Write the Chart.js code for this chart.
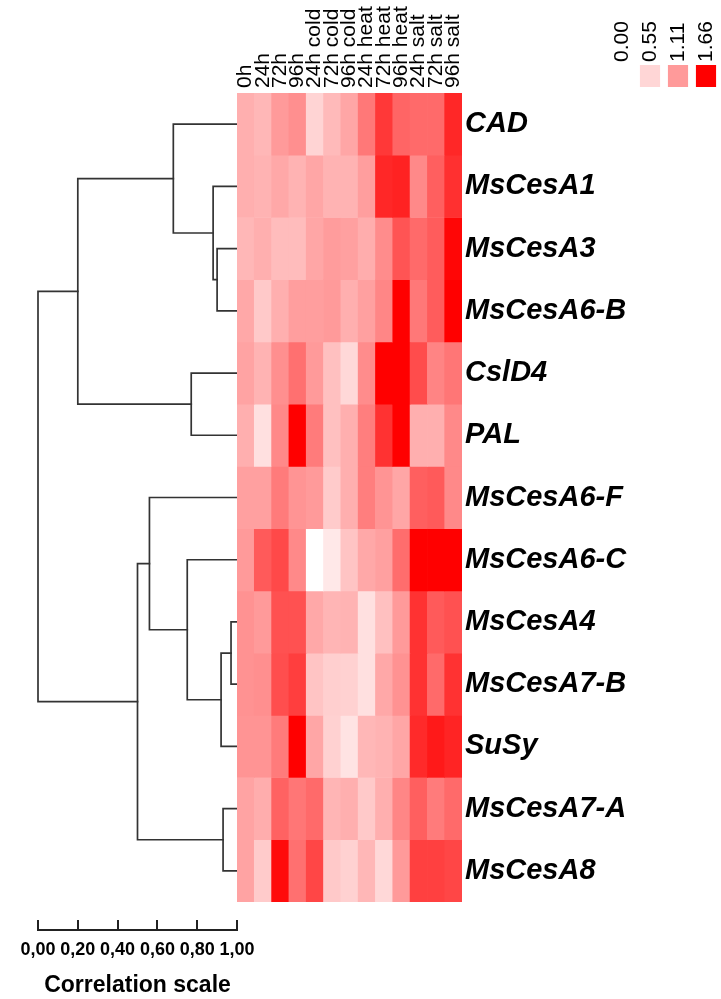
<!DOCTYPE html>
<html><head><meta charset="utf-8">
<script src="https://cdn.jsdelivr.net/npm/chart.js@4.4.1/dist/chart.umd.min.js"></script>
<style>
html,body{margin:0;padding:0;background:#fff;width:721px;height:999px;overflow:hidden;position:relative}
canvas{position:absolute}
</style></head><body>
<canvas id="dendro" width="240" height="809" style="left:0;top:93px"></canvas>
<canvas id="heat" width="494" height="902" style="left:227px;top:0"></canvas>
<canvas id="legend" width="131" height="90" style="left:590px;top:0"></canvas>
<canvas id="scale" width="290" height="94" style="left:0;top:905px"></canvas>
<script>
// ---- data ----
const conditions = ['0h','24h','72h','96h','24h cold','72h cold','96h cold','24h heat','72h heat','96h heat','24h salt','72h salt','96h salt'];
const genes = ['CAD','MsCesA1','MsCesA3','MsCesA6-B','CslD4','PAL','MsCesA6-F','MsCesA6-C','MsCesA4','MsCesA7-B','SuSy','MsCesA7-A','MsCesA8'];

const CAD       = [0.91,0.84,1.11,1.15,0.57,0.81,1.00,1.23,1.46,1.30,1.28,1.28,1.52];
const MsCesA1   = [0.91,0.88,0.98,0.88,1.00,0.88,0.88,1.07,1.52,1.54,1.17,1.32,1.49];
const MsCesA3   = [0.84,0.91,0.79,0.79,1.00,1.09,1.05,0.93,1.16,1.36,1.28,1.33,1.64];
const MsCesA6_B = [0.98,0.67,0.91,1.07,1.07,1.11,0.91,1.05,1.18,1.66,1.23,1.33,1.66];
const CslD4     = [1.03,0.88,1.15,1.26,1.11,0.76,0.52,1.16,1.66,1.66,1.39,1.19,1.24];
const PAL       = [0.91,0.41,1.17,1.66,1.22,0.76,0.91,1.21,1.48,1.66,0.91,0.91,1.17];
const MsCesA6_F = [1.05,1.05,1.22,1.13,1.11,0.65,0.91,1.21,1.13,1.00,1.32,1.34,1.17];
const MsCesA6_C = [1.11,1.34,1.40,1.17,0.00,0.31,0.72,0.98,1.05,1.27,1.66,1.66,1.66];
const MsCesA4   = [1.14,1.11,1.37,1.37,0.98,0.86,0.88,0.41,0.76,1.11,1.48,1.34,1.37];
const MsCesA7_B = [1.14,1.15,1.38,1.44,0.72,0.62,0.60,0.41,0.98,1.14,1.48,1.28,1.48];
const SuSy      = [1.13,1.13,1.22,1.66,1.00,0.60,0.38,0.84,0.88,1.00,1.51,1.57,1.53];
const MsCesA7_A = [1.03,0.93,1.31,1.24,1.28,0.86,0.91,0.67,0.91,1.18,1.32,1.22,1.28];
const MsCesA8   = [1.03,0.65,1.62,1.26,1.41,0.67,0.60,0.84,0.52,1.11,1.43,1.43,1.41];

const legendValues = [0.00, 0.55, 1.11, 1.66];

// dendrogram merges: [child A, child B, correlation level]; leaves 0..12, new nodes 13..
const merges = [
  [2, 3, 0.90],
  [1, 13, 0.88],
  [0, 14, 0.68],
  [4, 5, 0.77],
  [15, 16, 0.20],
  [8, 9, 0.97],
  [18, 10, 0.92],
  [7, 19, 0.75],
  [6, 20, 0.56],
  [11, 12, 0.93],
  [21, 22, 0.50],
  [17, 23, 0.00]
];
const scaleTicks = [0, 0.2, 0.4, 0.6, 0.8, 1.0];

// ---- helpers ----
const rows = [CAD, MsCesA1, MsCesA3, MsCesA6_B, CslD4, PAL, MsCesA6_F, MsCesA6_C, MsCesA4, MsCesA7_B, SuSy, MsCesA7_A, MsCesA8];
const stopRGB = [[255,255,255],[255,214,214],[255,154,154],[255,0,0]];
function colorFor(v){
  let k = 0;
  while (k < legendValues.length - 2 && v > legendValues[k+1]) k++;
  const a = legendValues[k], b = legendValues[k+1];
  let t = (v - a) / (b - a); t = Math.max(0, Math.min(1, t));
  const c = stopRGB[k].map((x,j)=>Math.round(x + (stopRGB[k+1][j]-x)*t));
  return `rgb(${c[0]},${c[1]},${c[2]})`;
}
const FONT = "'Liberation Sans', Arial, sans-serif";
Chart.defaults.font.family = FONT;
Chart.defaults.color = '#000';
const base = {responsive:false, animation:false, devicePixelRatio:1, events:[],
  plugins:{legend:{display:false}, tooltip:{enabled:false}}};
function noPad(s){ s.paddingLeft = 0; s.paddingRight = 0; s.paddingTop = 0; s.paddingBottom = 0; }

// ---- heatmap ----
new Chart(document.getElementById('heat'), {
  type:'bar',
  data:{
    labels: conditions,
    datasets: rows.map((vals,i)=>({
      label: genes[i],
      data: vals.map(()=>[i, i+1]),
      backgroundColor: vals.map(colorFor),
      borderWidth:0, grouped:false, barPercentage:1, categoryPercentage:1
    }))
  },
  options:{...base,
    layout:{padding:{left:10, right:0, top:0, bottom:0}},
    scales:{
      x:{type:'category', position:'top', offset:true,
        grid:{display:false, drawTicks:false}, border:{display:false},
        ticks:{autoSkip:false, minRotation:90, maxRotation:90, padding:5, labelOffset:25, color:'#000',
          font:{family:FONT, size:21}},
        afterFit(s){ s.height = 93; noPad(s); }},
      y:{type:'linear', position:'right', min:0, max:13, reverse:true,
        grid:{display:false, drawTicks:false}, border:{display:false},
        afterBuildTicks(s){ s.ticks = genes.map((g,i)=>({value:i+0.5})); },
        ticks:{autoSkip:false, padding:3, color:'#000',
          font:{family:FONT, size:29, style:'italic', weight:'bold'},
          callback:(v)=>genes[Math.floor(v)]},
        afterFit(s){ s.width = 259; noPad(s); }}
    }
  }
});

// ---- colour legend ----
new Chart(document.getElementById('legend'), {
  type:'bar',
  data:{
    labels: legendValues.map(v=>v.toFixed(2)),
    datasets:[{data: legendValues.map(()=>1), backgroundColor: legendValues.map(colorFor),
      borderWidth:0, barPercentage:0.72, categoryPercentage:1}]
  },
  options:{...base,
    layout:{padding:{left:18, right:1, top:0, bottom:3}},
    scales:{
      x:{type:'category', position:'top', offset:true,
        grid:{display:false, drawTicks:false}, border:{display:false},
        ticks:{autoSkip:false, minRotation:90, maxRotation:90, padding:3, labelOffset:25, color:'#000',
          font:{family:FONT, size:21}},
        afterFit(s){ s.height = 65; noPad(s); }},
      y:{display:false, min:0, max:1}
    }
  }
});

// ---- dendrogram ----
const nodeY = genes.map((g,i)=>i+0.5);
const nodeH = genes.map(()=>1.0);
const dendroSets = merges.map(([a,b,h],k)=>{
  const id = genes.length + k;
  nodeY[id] = (nodeY[a] + nodeY[b]) / 2;
  nodeH[id] = h;
  return {
    data:[{x:nodeH[a], y:nodeY[a]}, {x:h, y:nodeY[a]}, {x:h, y:nodeY[b]}, {x:nodeH[b], y:nodeY[b]}],
    borderColor:'#333', borderWidth:1.7, pointRadius:0, tension:0, fill:false, clip:false,
    borderCapStyle:'square', borderJoinStyle:'miter'
  };
});
new Chart(document.getElementById('dendro'), {
  type:'line',
  data:{datasets: dendroSets},
  options:{...base,
    layout:{padding:{left:38, right:3, top:0, bottom:0}},
    scales:{
      x:{type:'linear', min:0, max:1, display:false},
      y:{type:'linear', min:0, max:13, reverse:true, display:false}
    }
  }
});

// ---- correlation scale bar ----
new Chart(document.getElementById('scale'), {
  type:'line',
  data:{datasets:[{data:[]}]},
  options:{...base,
    layout:{padding:{left:38, right:53, top:15, bottom:0}},
    scales:{
      x:{type:'linear', min:0, max:1, position:'bottom',
        afterBuildTicks(s){ s.ticks = scaleTicks.map(v=>({value:v})); },
        grid:{display:true, drawOnChartArea:true, drawTicks:false, color:'#222', lineWidth:2},
        border:{display:true, color:'#222', width:2},
        ticks:{autoSkip:false, maxRotation:0, padding:9, color:'#000',
          font:{family:FONT, size:18, weight:'bold'},
          callback:(v)=>v.toFixed(2).replace('.', ',')},
        title:{display:true, text:'Correlation scale', color:'#000',
          font:{family:FONT, size:23, weight:'bold'}, padding:{top:3, bottom:0}},
        afterFit(s){ s.height = 69; noPad(s); }},
      y:{display:false, min:0, max:1}
    }
  }
});
</script>
</body></html>
